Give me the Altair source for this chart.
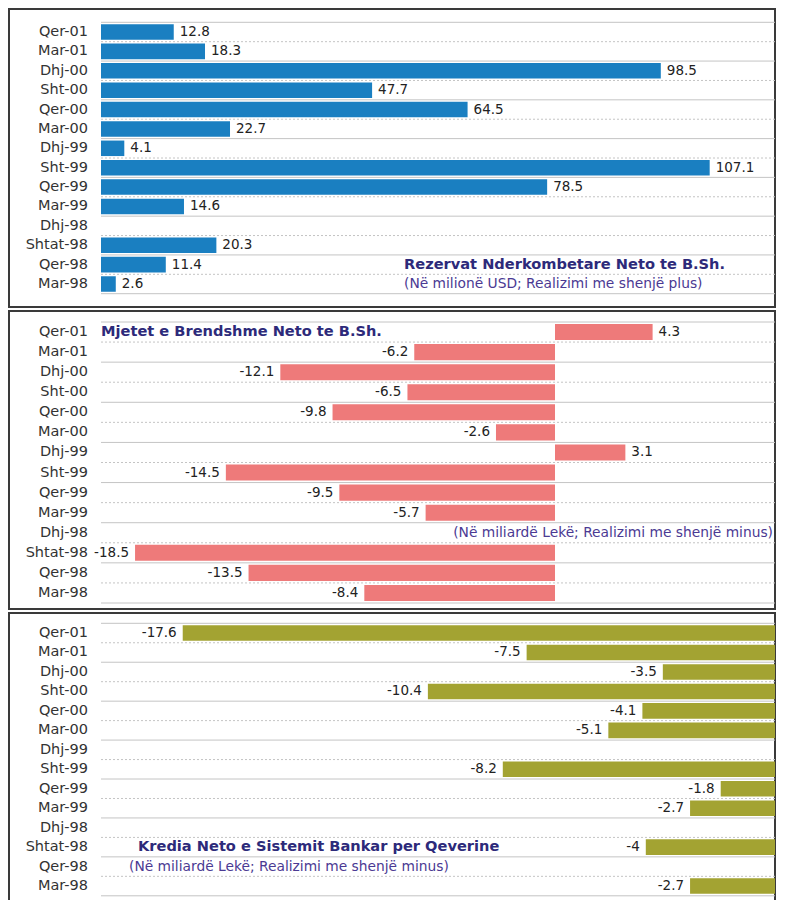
import altair as alt
import pandas as pd

categories = ["Qer-01", "Mar-01", "Dhj-00", "Sht-00", "Qer-00", "Mar-00", "Dhj-99",
              "Sht-99", "Qer-99", "Mar-99", "Dhj-98", "Shtat-98", "Qer-98", "Mar-98"]
reserves = [12.8, 18.3, 98.5, 47.7, 64.5, 22.7, 4.1, 107.1, 78.5, 14.6, None, 20.3, 11.4, 2.6]
assets = [4.3, -6.2, -12.1, -6.5, -9.8, -2.6, 3.1, -14.5, -9.5, -5.7, None, -18.5, -13.5, -8.4]
credit = [-17.6, -7.5, -3.5, -10.4, -4.1, -5.1, None, -8.2, -1.8, -2.7, None, -4, None, -2.7]

titles = ["Rezervat Nderkombetare Neto te B.Sh.",
          "Mjetet e Brendshme Neto te B.Sh.",
          "Kredia Neto e Sistemit Bankar per Qeverine"]
subtitles = ["(Në milionë USD; Realizimi me shenjë plus)",
             "(Në miliardë Lekë; Realizimi me shenjë minus)",
             "(Në miliardë Lekë; Realizimi me shenjë minus)"]

W = 766
H = 298
FONT = "DejaVu Sans"
TITLE_COL = "#2d2a7a"
SUB_COL = "#4b3a93"


def panel(values, color, xdom, xrng, yrng, title, sub,
          title_x, title_cat, title_align, sub_x, sub_cat, sub_align):
    rows = pd.DataFrame({"cat": categories})
    rows["dash"] = ["solid" if i % 2 == 0 else "dot" for i in range(len(categories))]
    bars = pd.DataFrame([{"cat": c, "val": v, "label": f"{v:g}"}
                         for c, v in zip(categories, values) if v is not None])
    step = (yrng[1] - yrng[0]) / len(categories)
    yenc = alt.Y("cat:N", sort=categories, axis=None,
                 scale=alt.Scale(range=yrng, paddingInner=0.2, paddingOuter=0.1))
    xenc = alt.X("val:Q", axis=None,
                 scale=alt.Scale(domain=xdom, range=xrng, nice=False, zero=True))
    dash = alt.StrokeDash("dash:N", legend=None,
                          scale=alt.Scale(domain=["solid", "dot"], range=[[1, 0], [2, 2]]))

    base_bars = alt.Chart(bars).mark_bar(color=color, clip=True).encode(y=yenc, x=xenc)
    grid_top = alt.Chart(rows).mark_rule(yOffset=-step / 2, color="#c4c4c4").encode(
        y=yenc, x=alt.value(xrng[0]), x2=alt.value(W), strokeDash=dash)
    grid_bot = alt.Chart(rows.tail(1)).mark_rule(yOffset=step / 2, color="#c4c4c4").encode(
        y=yenc, x=alt.value(xrng[0]), x2=alt.value(W))
    cat_lbl = alt.Chart(rows).mark_text(align="right", baseline="middle", fontSize=14.5,
                                        color="#333333", font=FONT).encode(
        y=yenc, x=alt.value(79), text="cat:N")
    pos_lbl = alt.Chart(bars).transform_filter("datum.val > 0").mark_text(
        align="left", baseline="middle", dx=6, fontSize=13.5, color="#222222", font=FONT).encode(
        y=yenc, x=xenc, text="label:N")
    neg_lbl = alt.Chart(bars).transform_filter("datum.val < 0").mark_text(
        align="right", baseline="middle", dx=-6, fontSize=13.5, color="#222222", font=FONT).encode(
        y=yenc, x=xenc, text="label:N")
    t = alt.Chart(pd.DataFrame({"cat": [title_cat], "t": [title]})).mark_text(
        align=title_align, baseline="middle", fontSize=14.6, fontWeight="bold",
        color=TITLE_COL, font=FONT).encode(y=yenc, x=alt.value(title_x), text="t:N")
    s = alt.Chart(pd.DataFrame({"cat": [sub_cat], "t": [sub]})).mark_text(
        align=sub_align, baseline="middle", fontSize=13.8, color=SUB_COL, font=FONT).encode(
        y=yenc, x=alt.value(sub_x), text="t:N")
    return alt.layer(grid_top, grid_bot, base_bars, cat_lbl, pos_lbl, neg_lbl, t, s).properties(
        width=W, height=H)


p1 = panel(reserves, "#1a7fc1", [0, 120], [92, 774], [13.3, 284.7],
           titles[0], subtitles[0], 395, "Qer-98", "left", 395, "Mar-98", "left")
p2 = panel(assets, "#ee7a7a", [-20, 10], [92, 773], [11, 292],
           titles[1], subtitles[1], 92, "Qer-01", "left", 764, "Dhj-98", "right")
p3 = panel(credit, "#a3a332", [-20, 0], [92, 773], [10.3, 282.8],
           titles[2], subtitles[2], 129, "Shtat-98", "left", 120, "Qer-98", "left")

chart = alt.vconcat(p1, p2, p3, spacing=2).properties(padding=0).configure_view(
    stroke="#3a3a3a", strokeWidth=2)

chart.save("out.html", embed_options={"renderer": "svg", "actions": False})
